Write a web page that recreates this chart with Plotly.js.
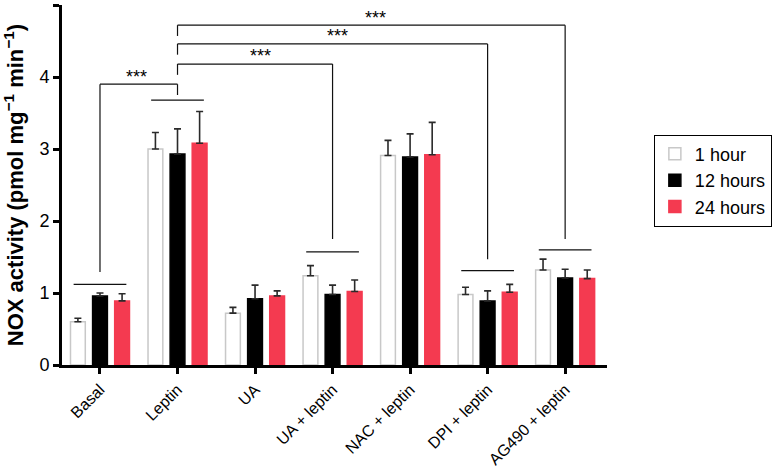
<!DOCTYPE html>
<html><head><meta charset="utf-8">
<script src="https://cdn.plot.ly/plotly-3.0.1.min.js"></script>
<style>html,body{margin:0;padding:0;background:#fff}</style>
</head><body>
<div id="chart" style="width:781px;height:470px"></div>
<script>
const categories = ["Basal", "Leptin", "UA", "UA + leptin", "NAC + leptin", "DPI + leptin", "AG490 + leptin"];
const seriesNames = ["1 hour", "12 hours", "24 hours"];
const hour1 = [0.60, 3.00, 0.72, 1.24, 2.91, 0.98, 1.32];
const hour1Err = [0.05, 0.23, 0.08, 0.14, 0.21, 0.10, 0.15];
const hour12 = [0.96, 2.93, 0.92, 0.98, 2.89, 0.89, 1.21];
const hour12Err = [0.04, 0.35, 0.19, 0.13, 0.32, 0.14, 0.12];
const hour24 = [0.89, 3.08, 0.96, 1.02, 2.92, 1.01, 1.20];
const hour24Err = [0.10, 0.44, 0.07, 0.16, 0.45, 0.11, 0.12];
const yTicks = [0, 1, 2, 3, 4, 5];

const FONT = "Arial, 'Liberation Sans', sans-serif";
const colors = ["#ffffff", "#000000", "#f43a50"];
const lines = ["#c8c8c8", "#000000", "#f43a50"];
const vals = [hour1, hour12, hour24];
const errs = [hour1Err, hour12Err, hour24Err];

const traces = seriesNames.map((n, i) => ({
  type: "bar", name: n, x: categories, y: vals[i],
  marker: {color: colors[i], line: {color: lines[i], width: 1.5}},
  error_y: {type: "data", array: errs[i], arrayminus: errs[i].map(() => 0), symmetric: false,
            color: "#2a2a2a", thickness: 1.6, width: 3.5}
}));

// significance brackets (category index coordinates)
const L = "#111";
const shapes = [];
function seg(x0, y0, x1, y1) {
  shapes.push({type: "line", xref: "x", yref: "y", x0, y0, x1, y1, line: {color: L, width: 1.2}});
}
const hw = 0.34;
// group lines
seg(0 - hw, 1.12, 0 + hw, 1.12);
seg(1 - hw, 3.68, 1 + hw, 3.68);
seg(3 - hw, 1.57, 3 + hw, 1.57);
seg(5 - hw, 1.31, 5 + hw, 1.31);
seg(6 - hw, 1.60, 6 + hw, 1.60);
// Basal - Leptin
seg(0, 1.29, 0, 3.90); seg(0, 3.90, 1, 3.90); seg(1, 3.90, 1, 3.75);
// Leptin - UA+leptin
seg(1, 4.18, 1, 4.03); seg(1, 4.18, 3, 4.18); seg(3, 4.18, 3, 1.75);
// Leptin - DPI+leptin
seg(1, 4.46, 1, 4.31); seg(1, 4.46, 5, 4.46); seg(5, 4.46, 5, 1.47);
// Leptin - AG490+leptin
seg(1, 4.72, 1, 4.57); seg(1, 4.72, 6, 4.72); seg(6, 4.72, 6, 1.75);

const star = (x, y) => ({xref: "x", yref: "y", x, y, text: "***", showarrow: false,
  yanchor: "bottom", yshift: -3, font: {family: FONT, size: 18, color: "#000"}});
const annotations = [star(0.47, 3.88), star(2.07, 4.16), star(3.07, 4.44), star(3.55, 4.70)];

const layout = {
  width: 781, height: 470,
  margin: {l: 62, r: 174, t: 5, b: 105},
  paper_bgcolor: "#fff", plot_bgcolor: "#fff",
  font: {family: FONT, size: 17, color: "#000"},
  barmode: "group", bargap: 0.145, bargroupgap: 0.33,
  showlegend: true,
  legend: {x: 1.086, y: 0.64, xanchor: "left", yanchor: "top", bordercolor: "#000", borderwidth: 1,
           font: {family: FONT, size: 18, color: "#000"}, bgcolor: "#fff"},
  xaxis: {type: "category", range: [-0.49, 6.54], showline: true, linecolor: "#000", linewidth: 3,
          ticks: "outside", ticklen: 6, tickwidth: 3, tickcolor: "#000", tickangle: -45,
          tickfont: {family: FONT, size: 16, color: "#000"}, showgrid: false, zeroline: false,
          automargin: false, fixedrange: true},
  yaxis: {range: [0, 5], tickvals: yTicks, ticktext: yTicks.map(String), showline: true,
          linecolor: "#000", linewidth: 3, ticks: "outside", ticklen: 6, tickwidth: 3,
          tickcolor: "#000", showgrid: false, zeroline: false, automargin: false,
          tickfont: {family: FONT, size: 18, color: "#000"},
          title: {text: "<b>NOX activity (pmol mg<sup>−1</sup> min<sup>−1</sup>)</b>",
                  font: {family: FONT, size: 22, color: "#000"}, standoff: 12}},
  shapes, annotations
};
Plotly.newPlot("chart", traces, layout, {displayModeBar: false, staticPlot: true});
</script>
</body></html>
